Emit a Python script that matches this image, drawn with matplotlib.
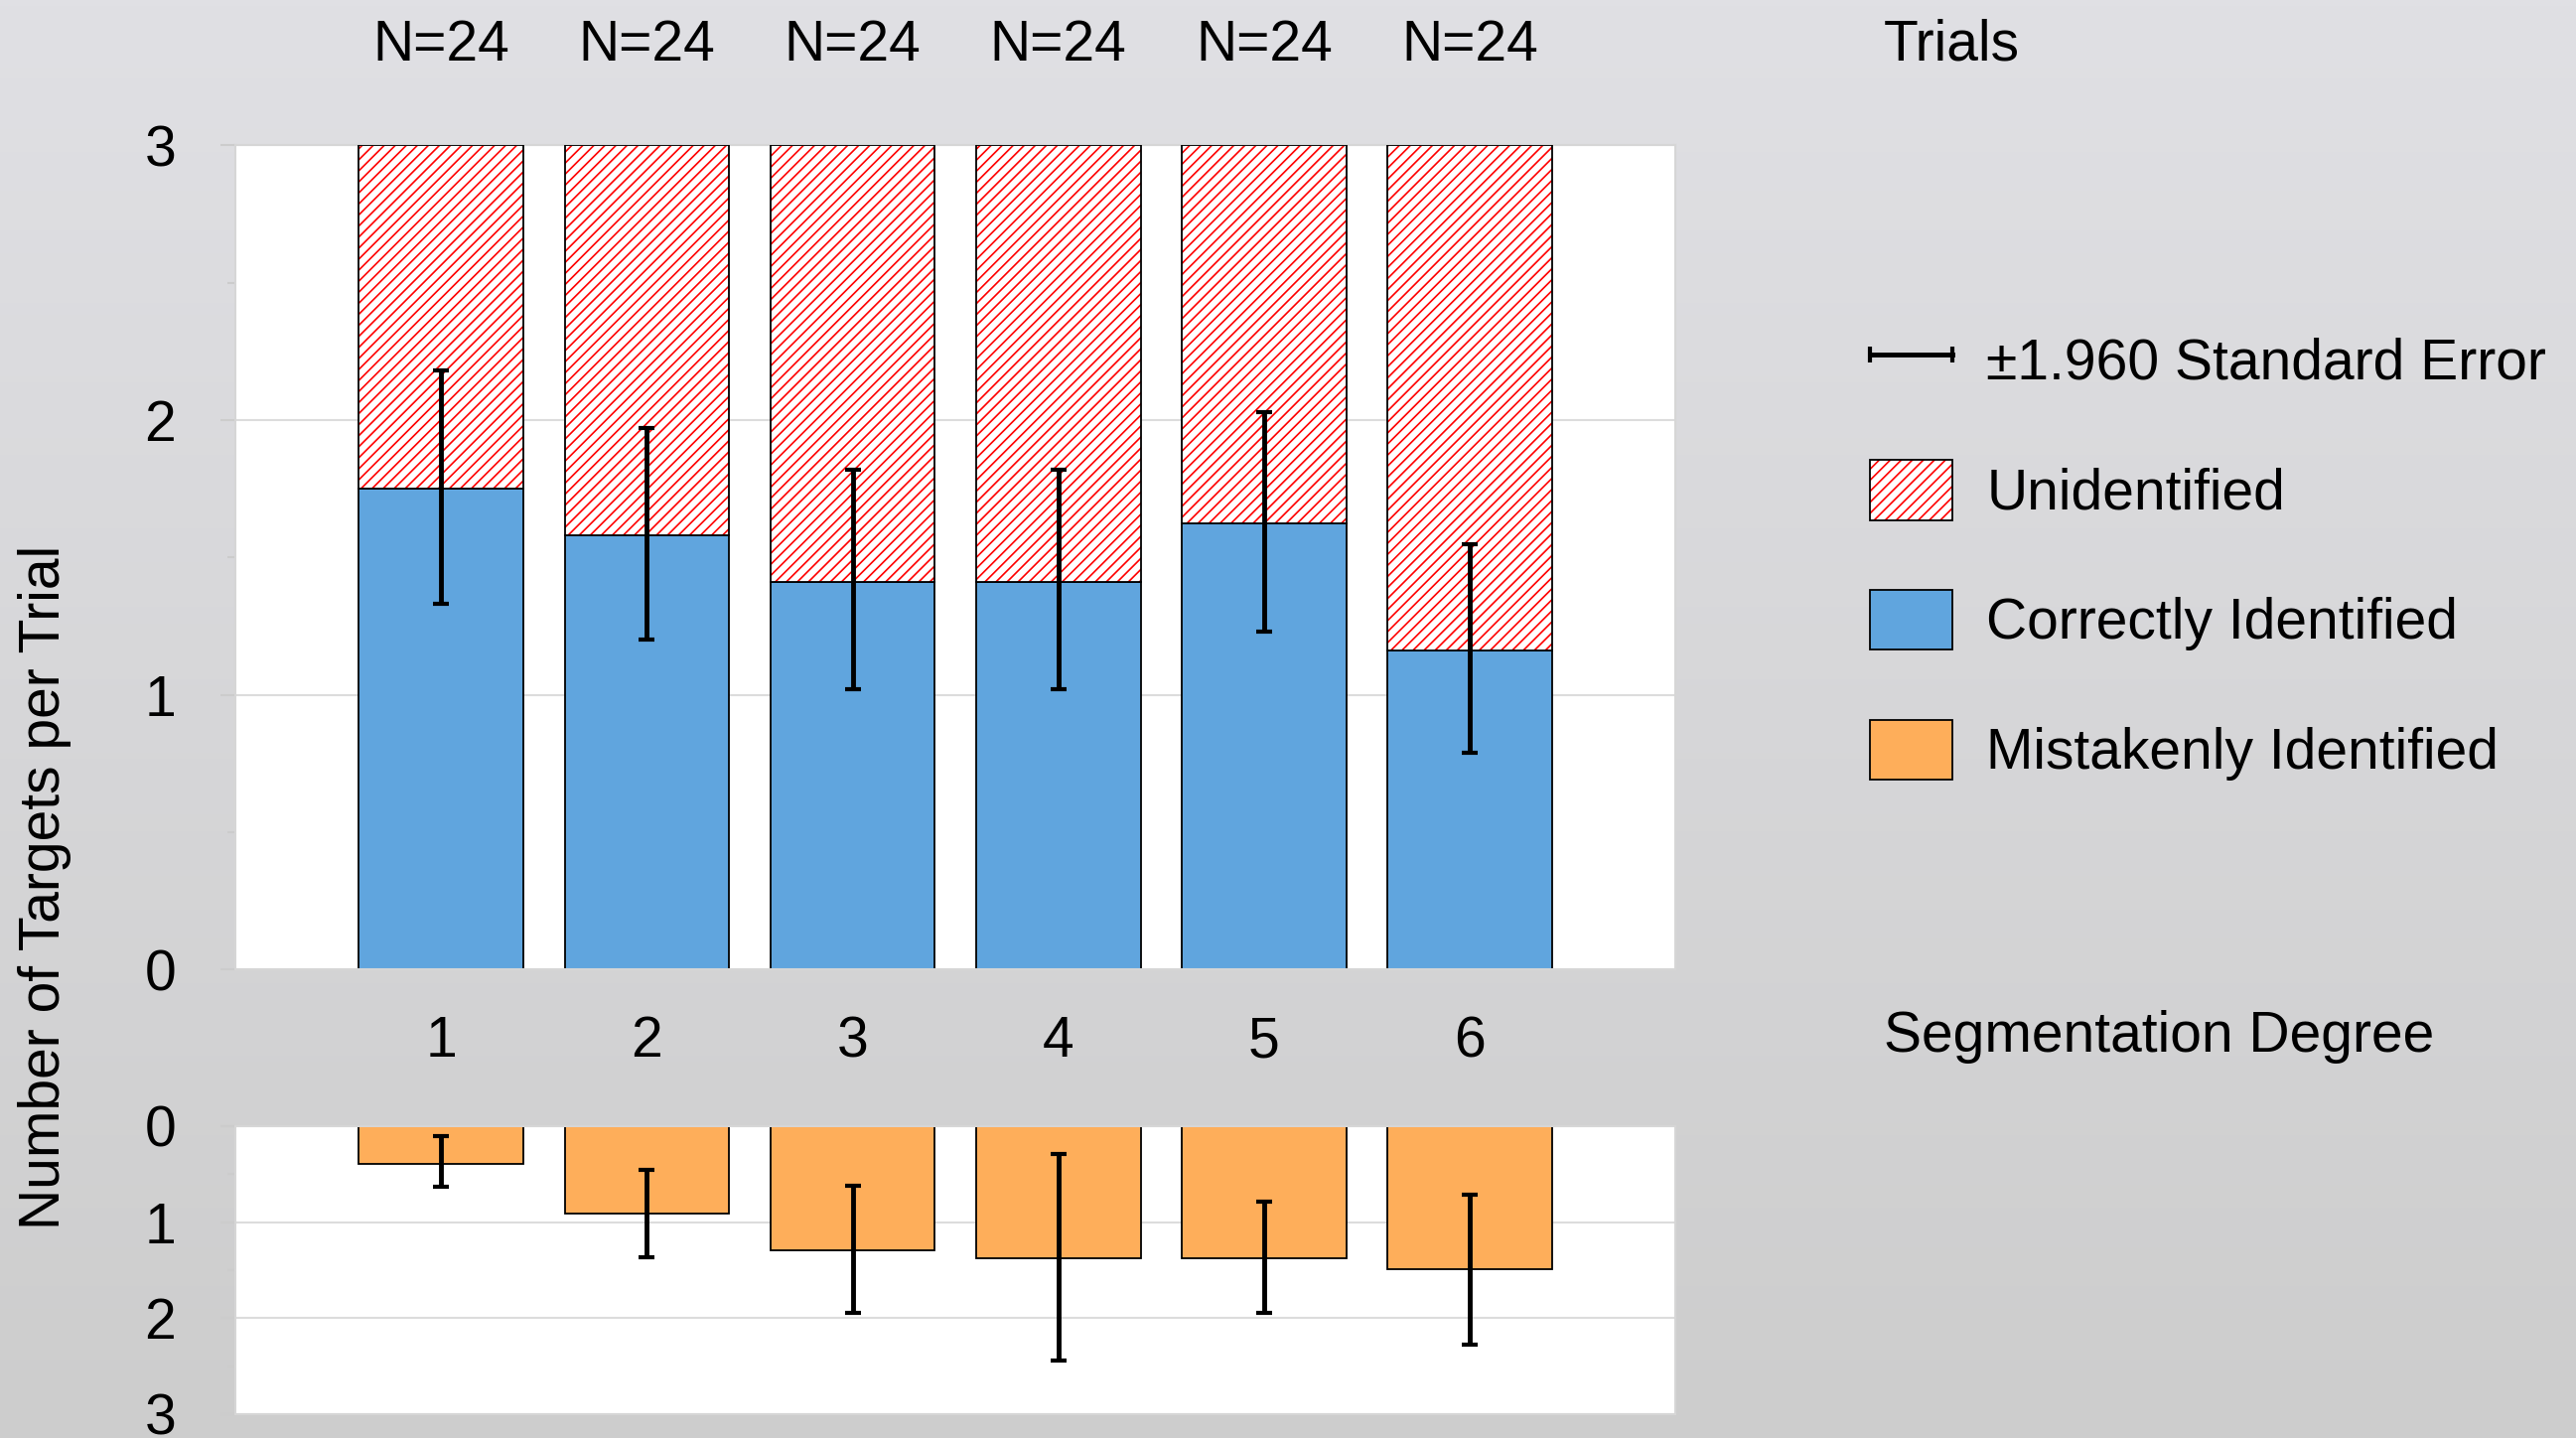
"""Stacked bar chart of target identification per segmentation degree,
with a mirrored panel underneath for the mistaken identifications."""

import matplotlib
matplotlib.use("Agg")
import matplotlib.pyplot as plt
import numpy as np
from matplotlib.legend_handler import HandlerBase
from matplotlib.lines import Line2D
from matplotlib.patches import Patch

# --- data ---
degrees = [1, 2, 3, 4, 5, 6]
n_labels = ["N=24", "N=24", "N=24", "N=24", "N=24", "N=24"]

correct = [1.75, 1.58, 1.41, 1.41, 1.625, 1.16]
unidentified = [1.25, 1.42, 1.59, 1.59, 1.375, 1.84]
correct_err_lo = [1.33, 1.20, 1.02, 1.02, 1.23, 0.79]
correct_err_hi = [2.18, 1.97, 1.82, 1.82, 2.03, 1.55]

mistaken = [0.39, 0.91, 1.29, 1.38, 1.38, 1.49]
mistaken_err_lo = [0.10, 0.46, 0.62, 0.29, 0.79, 0.71]
mistaken_err_hi = [0.63, 1.37, 1.95, 2.44, 1.95, 2.28]

BLUE = "#60A5DE"
ORANGE = "#FEAE5A"
FONT = 41

plt.rcParams["font.family"] = ["Liberation Sans", "DejaVu Sans"]
plt.rcParams["font.size"] = FONT
plt.rcParams["hatch.linewidth"] = 1.2


class HandlerErrBar(HandlerBase):
    """Draws |---| as the legend key for the error bars."""

    def create_artists(self, legend, orig_handle, xdescent, ydescent,
                       width, height, fontsize, trans):
        x = [-xdescent, -xdescent + width]
        y = [(height - ydescent) / 2] * 2
        line = Line2D(x, y, color="black", lw=3.5, transform=trans)
        caps = Line2D(x, y, ls="none", marker="|", ms=12, mew=3,
                      color="black", transform=trans)
        return [line, caps]


def style_axes(ax):
    ax.set_facecolor("white")
    for side in ax.spines.values():
        side.set_color("#d6d6d6")
        side.set_linewidth(1.5)
    ax.set_xlim(0, 7)
    ax.set_ylim(0, 3)
    ax.set_yticks([0, 1, 2, 3])
    ax.set_yticks([0.5, 1.5, 2.5], minor=True)
    ax.grid(axis="y", which="major", color="#dcdcdc", lw=1.5)
    ax.set_axisbelow(True)
    ax.tick_params(axis="y", which="major", length=11, width=1.5,
                   color="#cccccc", pad=32, labelsize=FONT)
    ax.tick_params(axis="y", which="minor", length=6, width=1.5,
                   color="#cccccc")


def main():
    fig = plt.figure(figsize=(25.94, 14.48), dpi=100)

    # soft grey backdrop, lighter at the top
    bg = fig.add_axes([0, 0, 1, 1], zorder=-5)
    grad = np.linspace(0, 1, 256)[:, None]
    top_c = np.array([224, 224, 228]) / 255
    bot_c = np.array([205, 205, 205]) / 255
    img = top_c * (1 - grad[..., None]) + bot_c * grad[..., None]
    bg.imshow(img, aspect="auto", extent=[0, 1, 0, 1])
    bg.axis("off")

    x = np.array(degrees)
    corr = np.array(correct)
    mist = np.array(mistaken)

    # --- top panel: correctly identified + unidentified ---
    ax = fig.add_axes([0.0914, 0.3257, 0.5590, 0.5732])
    style_axes(ax)
    ax.bar(x, corr, width=0.8, color=BLUE, edgecolor="black", lw=1.3, zorder=2)
    ax.bar(x, unidentified, bottom=corr, width=0.8, color="white",
           edgecolor="red", hatch="///", lw=0, zorder=2)
    ax.bar(x, unidentified, bottom=corr, width=0.8, fill=False,
           edgecolor="black", lw=1.3, zorder=3)
    yerr = [corr - np.array(correct_err_lo), np.array(correct_err_hi) - corr]
    ax.errorbar(x, corr, yerr=yerr, fmt="none", ecolor="black",
                elinewidth=3.5, capsize=6, capthick=3, zorder=4)
    ax.set_xticks(x)
    ax.set_xticklabels([str(d) for d in degrees])
    ax.tick_params(axis="x", length=0, pad=33, labelsize=FONT)
    for xi, lab in zip(x, n_labels):
        ax.text(xi, 1.1024, lab, ha="center", va="baseline",
                transform=ax.get_xaxis_transform())

    # --- bottom panel: mistakenly identified, hanging down ---
    ax2 = fig.add_axes([0.0914, 0.0166, 0.5590, 0.2003])
    style_axes(ax2)
    ax2.set_ylim(3, 0)
    ax2.bar(x, mist, width=0.8, color=ORANGE, edgecolor="black", lw=1.3,
            zorder=2)
    yerr2 = [mist - np.array(mistaken_err_lo), np.array(mistaken_err_hi) - mist]
    ax2.errorbar(x, mist, yerr=yerr2, fmt="none", ecolor="black",
                 elinewidth=3.5, capsize=6, capthick=3, zorder=4)
    ax2.set_xticks([])

    # --- free-standing labels ---
    fig.text(0.7313, 0.958, "Trials", ha="left", va="baseline")
    fig.text(0.7313, 0.2687, "Segmentation Degree", ha="left", va="baseline")
    fig.text(0.0173, 0.3833, "Number of Targets per Trial", rotation=90,
             ha="center", va="center")

    # --- legend ---
    err_key = Line2D([], [])
    hatch_key = (Patch(facecolor="white", edgecolor="red", hatch="///", lw=0),
                 Patch(facecolor="none", edgecolor="black", lw=1.3))
    blue_key = Patch(facecolor=BLUE, edgecolor="black", lw=1.3)
    orange_key = Patch(facecolor=ORANGE, edgecolor="black", lw=1.3)
    fig.legend([err_key, hatch_key, blue_key, orange_key],
               ["\u00b11.960 Standard Error", "Unidentified",
                "Correctly Identified", "Mistakenly Identified"],
               handler_map={err_key: HandlerErrBar()},
               loc="upper left", bbox_to_anchor=(0.7259, 0.7703),
               frameon=False, borderpad=0, borderaxespad=0,
               handlelength=1.46, handleheight=1.25, handletextpad=0.6,
               labelspacing=1.22, fontsize=FONT)

    fig.savefig("out.png", dpi=100)
    plt.close(fig)


if __name__ == "__main__":
    main()
